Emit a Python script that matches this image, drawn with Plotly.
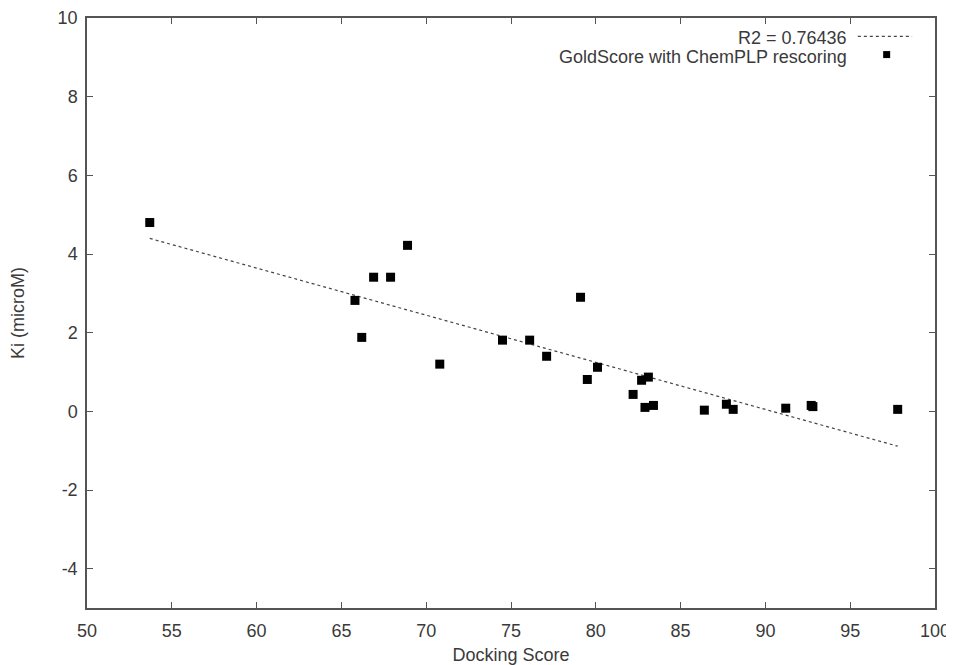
import plotly.graph_objects as go
import numpy as np

docking_score = [53.7, 65.8, 66.2, 66.9, 67.9, 68.9, 70.8, 74.5, 76.1, 77.1, 79.1, 79.5,
                 80.1, 82.2, 82.7, 83.1, 82.9, 83.4, 86.4, 87.7, 88.1, 91.2, 92.7, 92.8, 97.8]
ki_microM = [4.80, 2.82, 1.88, 3.41, 3.41, 4.22, 1.20, 1.81, 1.81, 1.40, 2.90, 0.81,
             1.12, 0.43, 0.79, 0.87, 0.10, 0.15, 0.03, 0.18, 0.05, 0.08, 0.15, 0.12, 0.05]

fit_slope = -0.1198
fit_intercept = 10.83
fit_label = "R2 = 0.76436"
series_label = "GoldScore with ChemPLP rescoring"

x_ticks = [50, 55, 60, 65, 70, 75, 80, 85, 90, 95, 100]
y_ticks = [-4, -2, 0, 2, 4, 6, 8, 10]
y_tick_labels = ["-4", "-2", "0", "2", "4", "6", "8", "10"]

fx = np.array([min(docking_score), max(docking_score)])
fy = fit_slope * fx + fit_intercept

font = dict(family="Liberation Sans, Arial, sans-serif", size=18, color="#3a3a3a")

fig = go.Figure()
fig.add_trace(go.Scatter(x=fx, y=fy, mode="lines",
                         line=dict(color="#444444", width=1.2, dash="dot"),
                         name=fit_label, showlegend=False))
fig.add_trace(go.Scatter(x=docking_score, y=ki_microM, mode="markers",
                         marker=dict(symbol="square", size=9, color="black"),
                         name=series_label, showlegend=False))

axis_common = dict(showline=True, linecolor="#555555", linewidth=1.5, mirror="ticks",
                   ticks="inside", ticklen=6, tickcolor="#555555", tickwidth=1,
                   showgrid=False, zeroline=False, tickfont=font, automargin=False)

fig.update_xaxes(range=[50, 100], tickvals=x_ticks, ticklabelstandoff=6,
                 title=dict(text="Docking Score", font=font, standoff=10), **axis_common)
fig.update_yaxes(range=[-5, 10], tickvals=y_ticks, ticktext=y_tick_labels, ticklabelstandoff=4,
                 title=dict(text="Ki (microM)", font=font, standoff=28), **axis_common)

# legend (gnuplot style: text right-aligned, sample on the right)
fig.add_annotation(xref="paper", yref="paper", x=0.898, y=0.966, xanchor="right", yanchor="middle",
                   text=fit_label, showarrow=False, font=font)
fig.add_annotation(xref="paper", yref="paper", x=0.898, y=0.934, xanchor="right", yanchor="middle",
                   text=series_label, showarrow=False, font=font)
fig.add_shape(type="line", xref="paper", yref="paper", x0=0.909, x1=0.973, y0=0.969, y1=0.969,
              line=dict(color="#444444", width=1.2, dash="dot"))
fig.add_trace(go.Scatter(x=[0.943], y=[0.938], xaxis="x2", yaxis="y2", mode="markers",
                         marker=dict(symbol="square", size=7, color="black"),
                         showlegend=False, hoverinfo="skip"))
fig.update_layout(
    xaxis2=dict(overlaying="x", range=[0, 1], visible=False, automargin=False),
    yaxis2=dict(overlaying="y", range=[0, 1], visible=False, automargin=False),
)

fig.update_layout(width=946, height=657, margin=dict(l=79, r=19, t=10, b=57, autoexpand=False),
                  plot_bgcolor="white", paper_bgcolor="white", font=font)

fig.write_html("out.html")
